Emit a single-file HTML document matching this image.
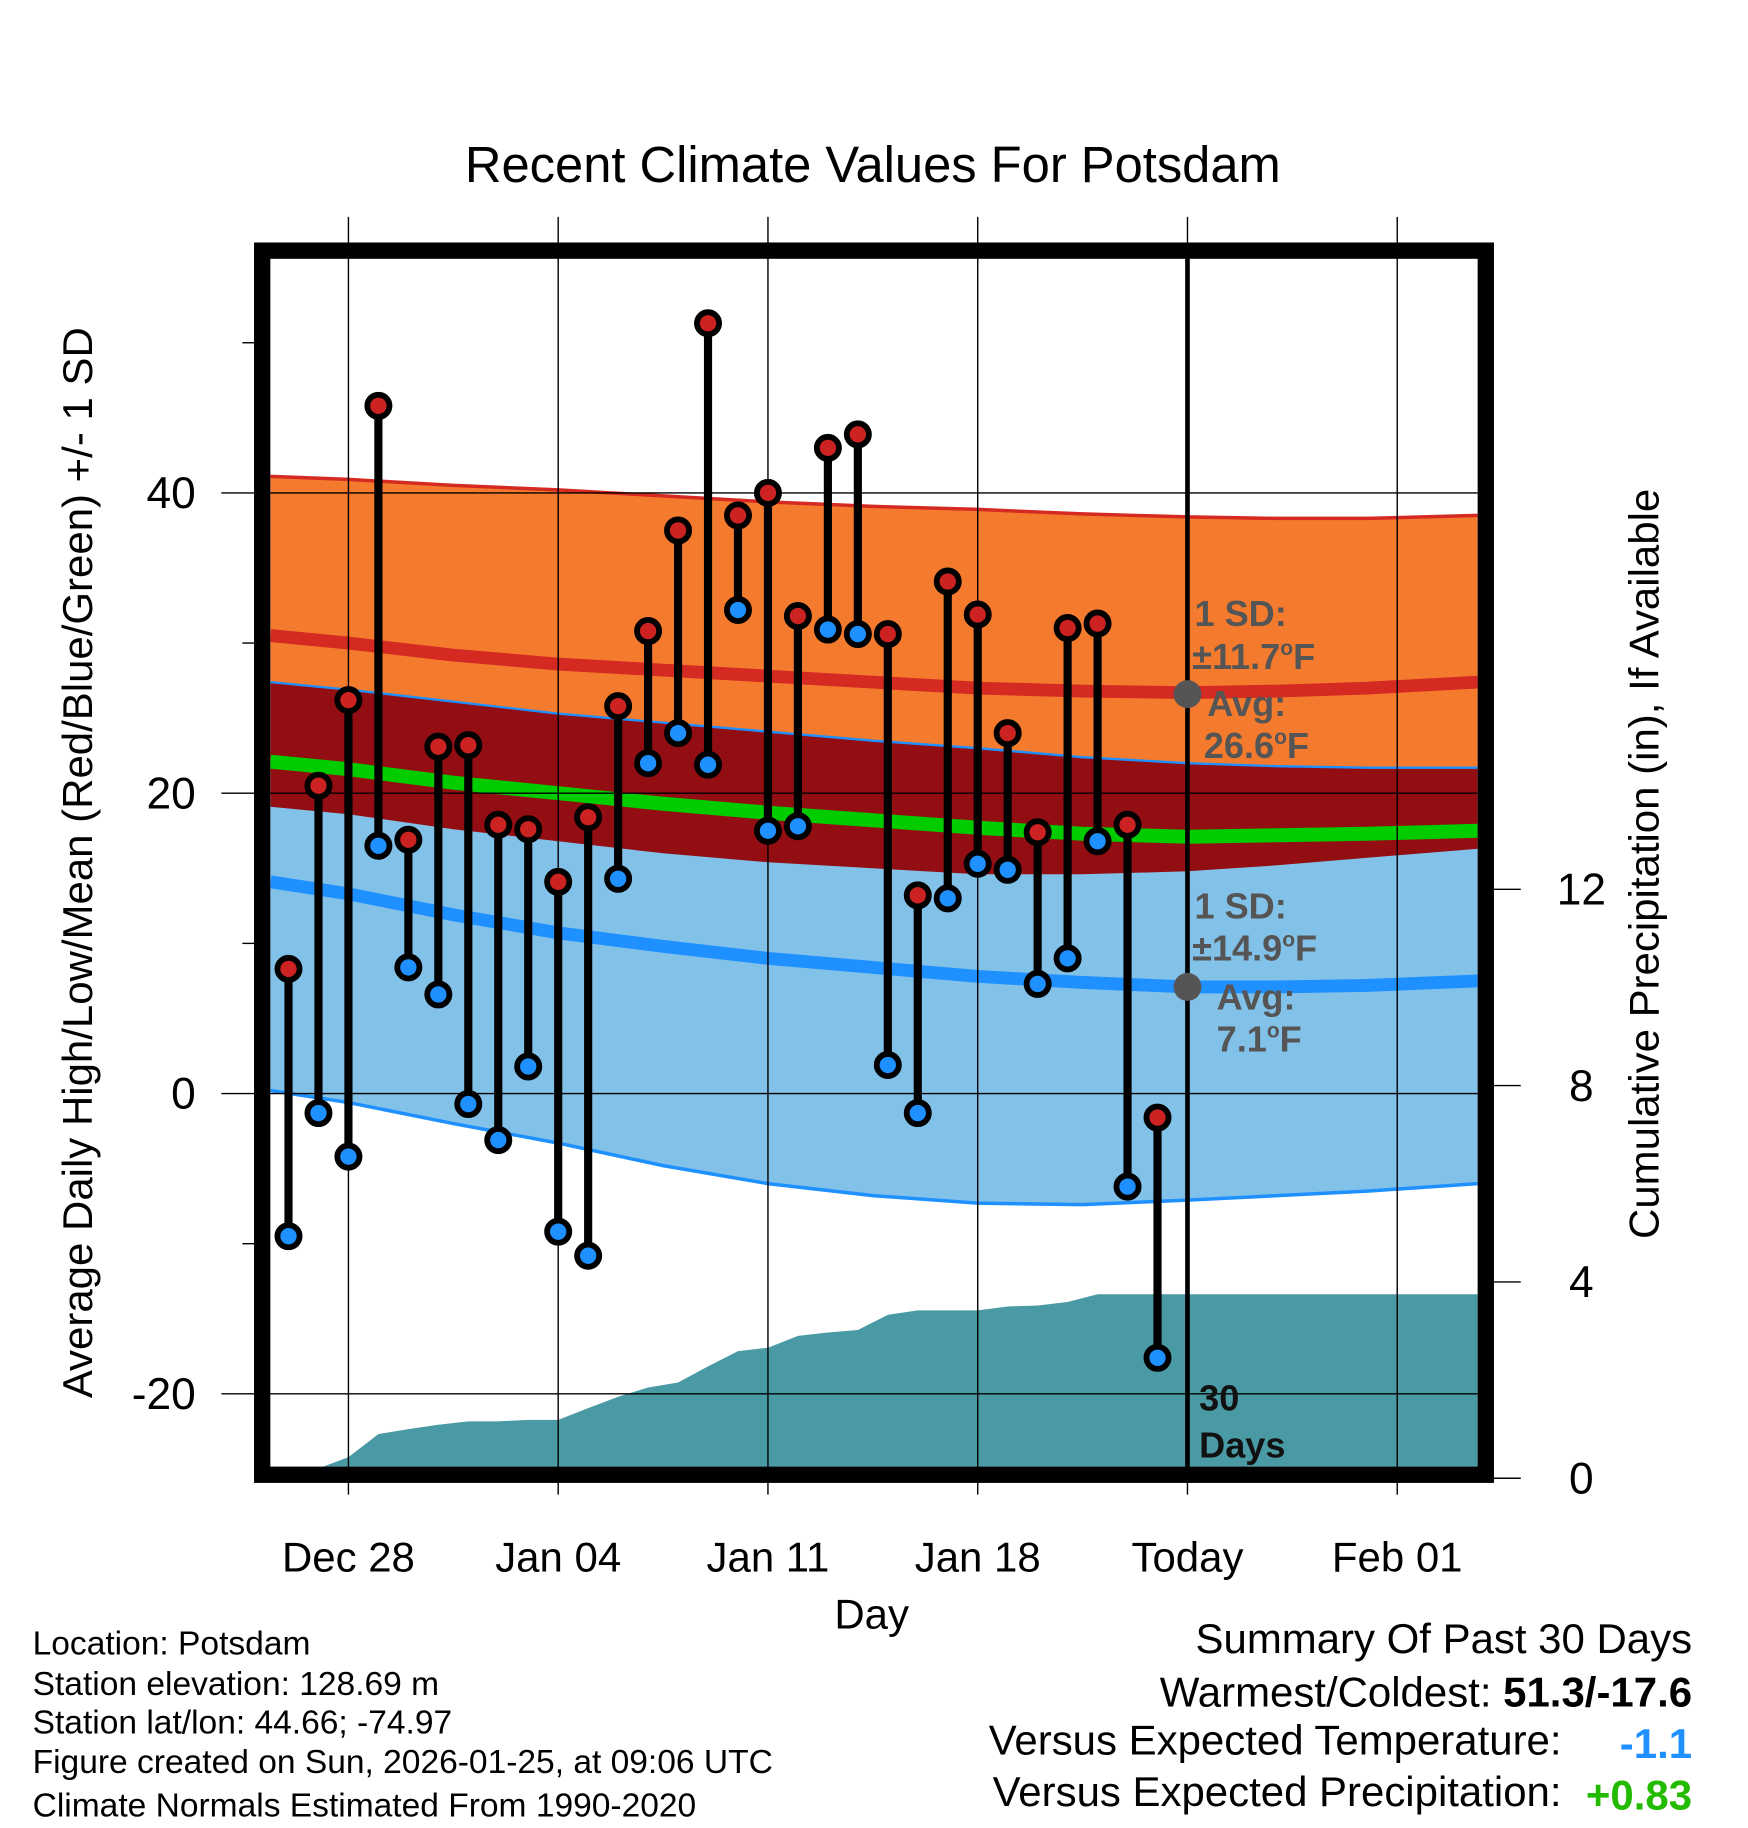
<!DOCTYPE html>
<html><head><meta charset="utf-8"><style>
html,body{margin:0;padding:0;background:#fff}
svg{display:block;font-family:"Liberation Sans",sans-serif}
</style></head><body>
<svg id="chart" width="1748" height="1828" viewBox="0 0 1500 1568" preserveAspectRatio="none" xmlns="http://www.w3.org/2000/svg">
<text x="749" y="156" font-size="43.5" text-anchor="middle">Recent Climate Values For Potsdam</text>
<g id="clipdefs"><clipPath id="pc"><rect x="232" y="222" width="1036" height="1036"/></clipPath></g>
<g id="bands" clip-path="url(#pc)"></g>
<g id="grid"></g>
<g id="marks"></g>
<rect x="225" y="215" width="1050" height="1050" fill="none" stroke="#000" stroke-width="14"/>
<g id="axes"></g>
<text transform="translate(79,740) rotate(-90)" font-size="36" text-anchor="middle">Average Daily High/Low/Mean (Red/Blue/Green) +/- 1 SD</text>
<text transform="translate(1423,741) rotate(-90)" font-size="36" text-anchor="middle">Cumulative Precipitation (in), If Available</text>
<text x="748" y="1397" font-size="36" text-anchor="middle">Day</text>
<g font-size="28.8">
<text x="28" y="1419">Location: Potsdam</text>
<text x="28" y="1454">Station elevation: 128.69 m</text>
<text x="28" y="1487">Station lat/lon: 44.66; -74.97</text>
<text x="28" y="1521">Figure created on Sun, 2026-01-25, at 09:06 UTC</text>
<text x="28" y="1558">Climate Normals Estimated From 1990-2020</text>
</g>
<g font-size="36" text-anchor="end">
<text x="1452" y="1418">Summary Of Past 30 Days</text>
<text x="1452" y="1464">Warmest/Coldest: <tspan font-weight="bold">51.3/-17.6</tspan></text>
<text x="1340" y="1505">Versus Expected Temperature:</text>
<text x="1452" y="1508" fill="#1e90ff" font-weight="bold">-1.1</text>
<text x="1340" y="1549">Versus Expected Precipitation:</text>
<text x="1452" y="1552" fill="#22bb00" font-weight="bold">+0.83</text>
</g>
</svg>
<script>
const days=[-2,-1,0,1,2,3,4,5,6,7,8,9,10,11,12,13,14,15,16,17,18,19,20,21,22,23,24,25,26,27];
const highs=[8.3,20.5,26.2,45.8,16.9,23.1,23.2,17.9,17.6,14.1,18.4,25.8,30.8,37.5,51.3,38.5,40.0,31.8,43.0,43.9,30.6,13.2,34.1,31.9,24.0,17.4,31.0,31.3,17.9,-1.6];
const lows=[-9.5,-1.3,-4.2,16.5,8.4,6.6,-0.7,-3.1,1.8,-9.2,-10.8,14.3,22.0,24.0,21.9,32.2,17.5,17.8,30.9,30.6,1.9,-1.3,13.0,15.3,14.9,7.3,9.0,16.8,-6.2,-17.6];
const precip=[0.0,0.2,0.43,0.9,1.0,1.09,1.16,1.16,1.19,1.19,1.43,1.66,1.85,1.95,2.28,2.59,2.66,2.9,2.97,3.02,3.33,3.42,3.42,3.42,3.5,3.52,3.59,3.75,3.75,3.75];
const normDays=[-2.6,0,3.5,7,10.5,14,17.5,21,24.5,28,31,34,37.7];
const highPlus=[41.1,40.9,40.5,40.2,39.8,39.4,39.1,38.9,38.6,38.4,38.3,38.3,38.5];
const highMean=[30.5,30.0,29.2,28.6,28.2,27.8,27.4,27.0,26.8,26.7,26.8,27.0,27.4];
const highMinus=[19.1,18.6,17.6,16.8,16.0,15.4,15.0,14.6,14.6,14.8,15.2,15.7,16.3];
const meanT=[22.1,21.6,20.7,20.0,19.3,18.7,18.2,17.7,17.3,17.1,17.2,17.3,17.5];
const lowPlus=[27.4,26.9,26.1,25.3,24.7,24.1,23.5,23.0,22.4,22.0,21.8,21.7,21.7];
const lowMean=[14.1,13.3,11.9,10.7,9.8,9.0,8.4,7.8,7.4,7.1,7.1,7.2,7.5];
const lowMinus=[0.2,-0.6,-2.0,-3.3,-4.8,-6.0,-6.8,-7.3,-7.4,-7.1,-6.8,-6.5,-6.0];
const xTicks=[0,7,14,21,28,35];
const xTickLabels=["Dec 28","Jan 04","Jan 11","Jan 18","Today","Feb 01"];
const yTicks=[-20,0,20,40];
const yMinor=[-10,10,30,50];
const y2Ticks=[0,4,8,12];
const todayDay=28, avgHigh=26.6, avgLow=7.1;

const X=d=>299+d*180/7;
const Y=v=>938-12.88*v;
const Y2=p=>1268-42.1*p;
const NS="http://www.w3.org/2000/svg";
function mk(tag,attrs,parent,name){const e=document.createElementNS(NS,tag);for(const k in attrs)e.setAttribute(k,attrs[k]);


parent.appendChild(e);return e;}
const bands=document.getElementById('bands'),grid=document.getElementById('grid'),marks=document.getElementById('marks'),axes=document.getElementById('axes');
function line(arr){return normDays.map((d,i)=>(i?'L':'M')+X(d)+','+Y(arr[i])).join('');}
function band(a,b){return normDays.map((d,i)=>(i?'L':'M')+X(d)+','+Y(a[i])).join('')+normDays.slice().reverse().map((d,j)=>{const i=normDays.length-1-j;return 'L'+X(d)+','+Y(b[i]);}).join('')+'Z';}
mk('path',{d:band(highPlus,highMinus),fill:'#f47b2e'},bands,'high-sd-band');
mk('path',{d:band(lowPlus,lowMinus),fill:'#82c1e8'},bands,'low-sd-band');
mk('path',{d:band(lowPlus,highMinus),fill:'#920e13'},bands,'overlap-band');
mk('path',{d:line(highPlus),fill:'none',stroke:'#d42a22','stroke-width':3},bands,'high-plus-sd-line');
mk('path',{d:line(lowPlus),fill:'none',stroke:'#1e90ff','stroke-width':2},bands,'low-plus-sd-line');
mk('path',{d:line(lowMinus),fill:'none',stroke:'#1e90ff','stroke-width':3},bands,'low-minus-sd-line');
mk('path',{d:line(highMean),fill:'none',stroke:'#d42a22','stroke-width':11},bands,'high-mean-line');
mk('path',{d:line(lowMean),fill:'none',stroke:'#1e90ff','stroke-width':11},bands,'low-mean-line');
mk('path',{d:line(meanT),fill:'none',stroke:'#00cc00','stroke-width':12},bands,'mean-line');
let pd='M'+X(days[0])+','+Y2(0);
days.forEach((d,i)=>pd+='L'+X(d)+','+Y2(precip[i]));
pd+='L1275,'+Y2(precip[precip.length-1])+'L1275,'+Y2(0)+'Z';
mk('path',{d:pd,fill:'#4a9aa5'},bands,'precip-area');
xTicks.forEach((d,i)=>{mk('line',{x1:X(d),x2:X(d),y1:186,y2:1282,stroke:'#000','stroke-width':1.2},grid,'x-gridline');
const t=mk('text',{x:X(d),y:1348,'font-size':36,'text-anchor':'middle'},axes,'x-tick-label');t.textContent=xTickLabels[i];});
yTicks.forEach(v=>{mk('line',{x1:190,x2:1268,y1:Y(v),y2:Y(v),stroke:'#000','stroke-width':1.2},grid,'y-gridline');
const t=mk('text',{x:168,y:Y(v)+13,'font-size':38,'text-anchor':'end'},axes,'y-tick-label');t.textContent=v;});
yMinor.forEach(v=>mk('line',{x1:208,x2:218,y1:Y(v),y2:Y(v),stroke:'#000','stroke-width':1.2},axes,'y-minor-tick'));
y2Ticks.forEach(p=>{mk('line',{x1:1282,x2:1305,y1:Y2(p),y2:Y2(p),stroke:'#000','stroke-width':1.2},axes,'y2-tick');
const t=mk('text',{x:1357,y:Y2(p)+13,'font-size':38,'text-anchor':'middle'},axes,'y2-tick-label');t.textContent=p;});
mk('line',{x1:X(todayDay),x2:X(todayDay),y1:222,y2:1258,stroke:'#000','stroke-width':4},marks,'today-line');
days.forEach((d,i)=>{mk('line',{x1:X(d),x2:X(d),y1:Y(highs[i]),y2:Y(lows[i]),stroke:'#000','stroke-width':7},marks,'day-range-stem');});
days.forEach((d,i)=>{mk('circle',{cx:X(d),cy:Y(highs[i]),r:9.5,fill:'#cc2222',stroke:'#000','stroke-width':5},marks,'high-point');
mk('circle',{cx:X(d),cy:Y(lows[i]),r:9.5,fill:'#1e90ff',stroke:'#000','stroke-width':5},marks,'low-point');});
mk('circle',{cx:X(todayDay),cy:Y(avgHigh),r:12,fill:'#555'},marks,'avg-high-dot');
mk('circle',{cx:X(todayDay),cy:Y(avgLow),r:12,fill:'#555'},marks,'avg-low-dot');
function lbl(x,y,txt,name,fill){const t=mk('text',{x:x,y:y,'font-size':31,'font-weight':'bold',fill:fill||'#555'},marks,name);t.innerHTML=txt;}
lbl(1025,537,'1 SD:','high-sd-label');
lbl(1023,574,'±11.7<tspan font-size="18" dy="-12">o</tspan><tspan dy="12">F</tspan>','high-sd-value');
lbl(1036,614,'Avg:','high-avg-label');
lbl(1033,650,'26.6<tspan font-size="18" dy="-12">o</tspan><tspan dy="12">F</tspan>','high-avg-value');
lbl(1025,788,'1 SD:','low-sd-label');
lbl(1023,824,'±14.9<tspan font-size="18" dy="-12">o</tspan><tspan dy="12">F</tspan>','low-sd-value');
lbl(1044,866,'Avg:','low-avg-label');
lbl(1044,902,'7.1<tspan font-size="18" dy="-12">o</tspan><tspan dy="12">F</tspan>','low-avg-value');
lbl(1029,1210,'30','days-count','#111');
lbl(1029,1250,'Days','days-label','#111');
</script>
</body></html>
